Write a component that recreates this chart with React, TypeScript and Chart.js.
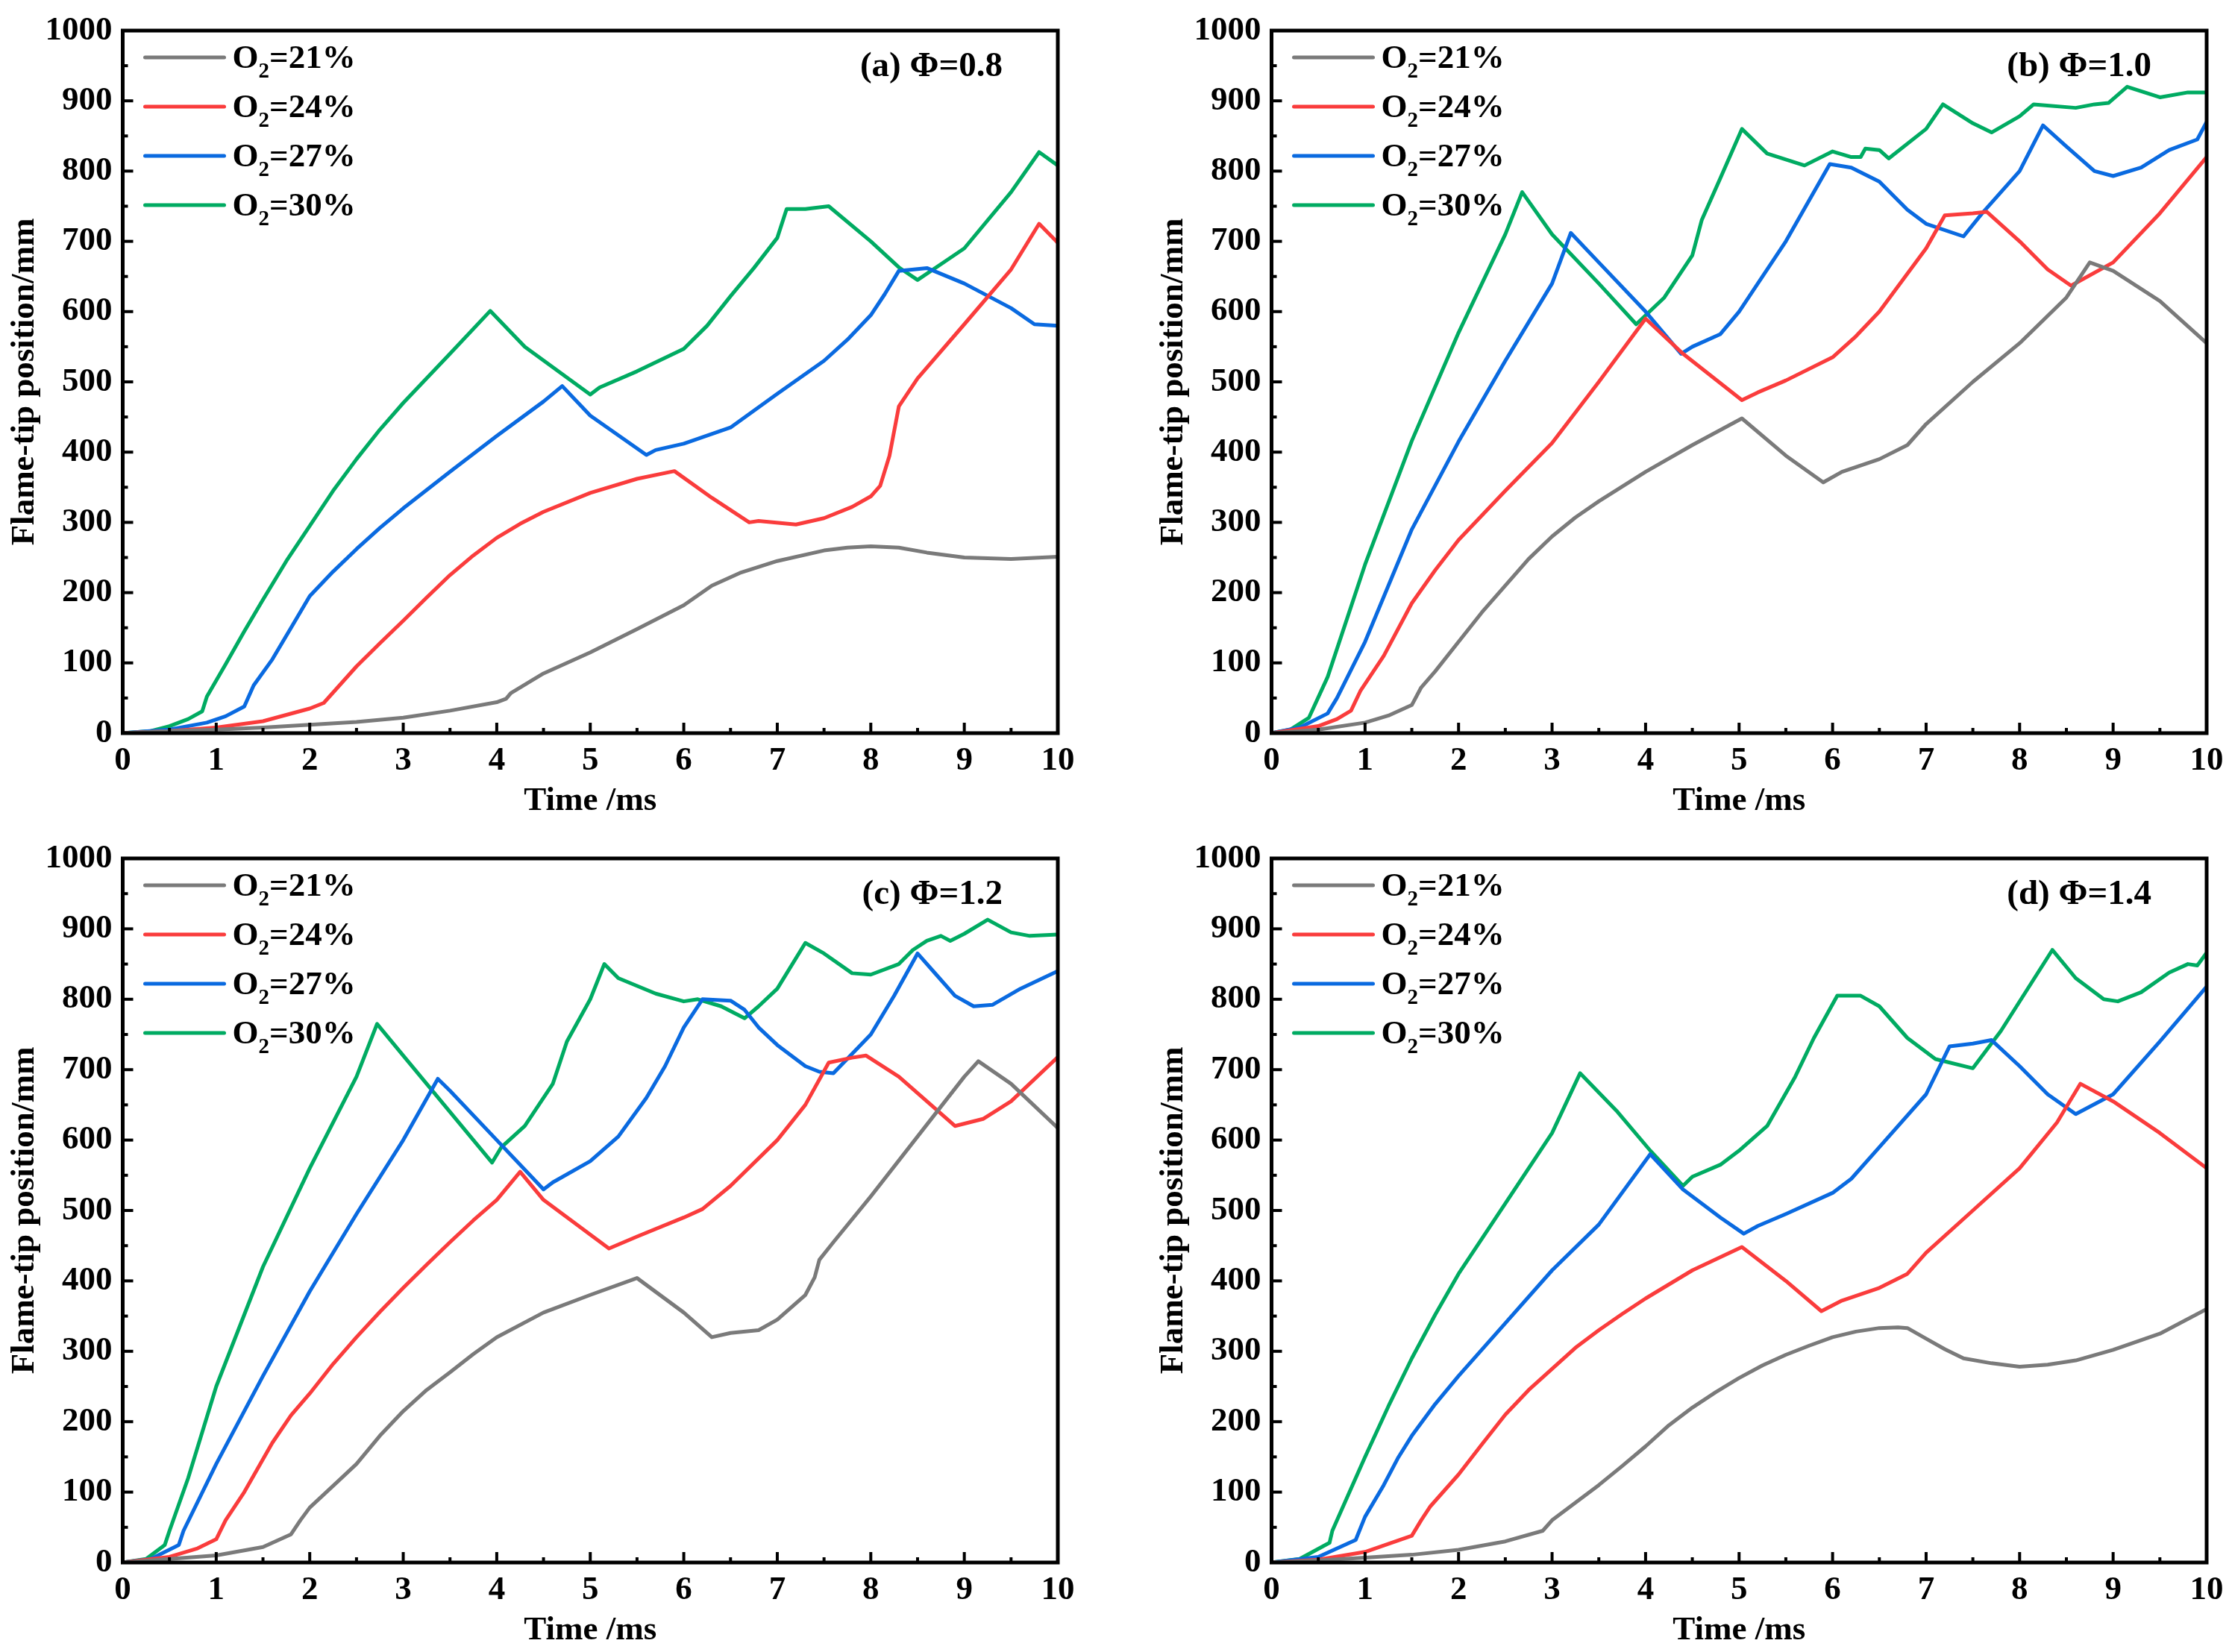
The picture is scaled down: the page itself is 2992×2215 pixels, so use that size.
import React, { useEffect, useRef } from "react";
import { Chart, registerables } from "chart.js";

Chart.register(...registerables);

// ---------- data ----------
const seriesLabels = ["21%", "24%", "27%", "30%"];
const seriesColors = ["#7a7a7a", "#fa3c3c", "#0a6ae0", "#00ab62"];
const panelLabels = ["(a) Φ=0.8", "(b) Φ=1.0", "(c) Φ=1.2", "(d) Φ=1.4"];
const xTickMin = 0;
const xTickMax = 10;
const xTickStep = 1;
const yTickMin = 0;
const yTickMax = 1000;
const yTickStep = 100;
const xTitle = "Time /ms";
const yTitle = "Flame-tip position/mm";

// Panel (a) Φ=0.8 : [time ms, position mm]
const a21 = [[0,0],[0.5,3],[1,5],[1.5,8],[2,12],[2.5,16],[3,22],[3.5,32],[4,44],[4.1,49],[4.15,57],[4.5,85],[5,115],[5.5,148],[6,182],[6.3,210],[6.6,228],[7,245],[7.5,260],[7.75,264],[8,266],[8.3,264],[8.6,257],[9,250],[9.5,248],[10,251]];
const a24 = [[0,0],[0.5,3],[1,8],[1.5,17],[2,35],[2.15,43],[2.5,95],[2.75,128],[3,160],[3.25,193],[3.5,225],[3.75,253],[4,278],[4.25,298],[4.5,315],[5,342],[5.5,362],[5.9,373],[6.3,335],[6.7,300],[6.8,302],[7.2,297],[7.5,306],[7.8,322],[8,337],[8.1,352],[8.2,395],[8.3,465],[8.5,505],[9,582],[9.5,660],[9.8,725],[10,698]];
const a27 = [[0,0],[0.5,5],[0.9,15],[1.1,24],[1.3,38],[1.4,68],[1.6,105],[1.8,150],[2,195],[2.25,230],[2.5,262],[2.75,292],[3,320],[3.5,372],[4,423],[4.5,472],[4.7,494],[5,452],[5.6,396],[5.7,403],[6,412],[6.5,435],[7,483],[7.5,530],[7.75,560],[8,595],[8.15,625],[8.3,658],[8.6,662],[9,640],[9.5,605],[9.75,582],[10,580]];
const a30 = [[0,0],[0.3,3],[0.5,10],[0.7,20],[0.85,31],[0.9,52],[1.1,98],[1.3,145],[1.5,190],[1.75,245],[2,295],[2.25,345],[2.5,390],[2.75,432],[3,470],[3.5,540],[3.93,601],[4.3,550],[5,482],[5.1,492],[5.5,515],[6,547],[6.25,580],[6.5,622],[6.75,662],[7,705],[7.1,746],[7.3,746],[7.55,750],[8,700],[8.3,663],[8.5,645],[8.8,672],[9,690],[9.5,770],[9.8,827],[10,808]];

// Panel (b) Φ=1.0
const b21 = [[0,0],[0.5,5],[1,15],[1.25,25],[1.5,40],[1.6,65],[1.75,88],[2,130],[2.25,172],[2.5,210],[2.75,248],[3,280],[3.25,307],[3.5,330],[4,372],[4.5,410],[5.03,448],[5.5,395],[5.9,357],[6.1,372],[6.5,390],[6.8,410],[7,440],[7.5,500],[8,555],[8.5,620],[8.75,670],[9,658],[9.5,615],[10,555]];
const b24 = [[0,0],[0.5,10],[0.7,20],[0.85,32],[0.95,60],[1.2,110],[1.5,185],[1.75,232],[2,275],[2.5,345],[3,413],[3.5,500],[4,590],[4.4,540],[5.03,474],[5.2,485],[5.5,502],[6,535],[6.25,565],[6.5,600],[7,690],[7.2,737],[7.5,740],[7.65,742],[8,700],[8.3,660],[8.55,637],[9,670],[9.5,740],[10,820]];
const b27 = [[0,0],[0.3,8],[0.6,28],[0.7,50],[1,130],[1.5,290],[2,415],[2.5,530],[3,640],[3.2,712],[3.5,670],[4,600],[4.38,540],[4.5,550],[4.8,568],[5,600],[5.5,700],[5.97,810],[6.2,805],[6.5,785],[6.8,745],[7,725],[7.4,707],[7.6,740],[8,800],[8.25,865],[8.5,835],[8.8,800],[9,793],[9.3,805],[9.6,830],[9.9,845],[10,870]];
const b30 = [[0,0],[0.2,5],[0.4,22],[0.6,80],[1,240],[1.5,416],[2,570],[2.5,710],[2.68,770],[3,710],[3.5,640],[3.9,582],[4.2,620],[4.5,680],[4.6,730],[4.8,790],[5.03,860],[5.3,825],[5.7,808],[6,828],[6.2,820],[6.3,820],[6.35,832],[6.5,830],[6.6,818],[7,860],[7.18,895],[7.5,868],[7.7,855],[8,878],[8.15,895],[8.6,890],[8.8,895],[8.95,897],[9.15,920],[9.5,905],[9.8,912],[10,912]];

// Panel (c) Φ=1.2
const c21 = [[0,0],[0.5,5],[1,10],[1.5,22],[1.8,40],[1.9,60],[2,78],[2.3,115],[2.5,140],[2.75,180],[3,215],[3.25,245],[3.5,270],[3.75,296],[4,320],[4.5,355],[5,380],[5.5,404],[6,355],[6.3,320],[6.5,326],[6.8,330],[7,345],[7.3,380],[7.4,405],[7.45,430],[7.6,455],[8,520],[8.5,605],[9,690],[9.15,712],[9.5,680],[10,617]];
const c24 = [[0,0],[0.5,8],[0.8,20],[1,33],[1.1,60],[1.3,100],[1.6,170],[1.8,209],[2,240],[2.25,282],[2.5,320],[2.75,356],[3,390],[3.25,423],[3.5,455],[3.75,486],[4,515],[4.25,555],[4.5,515],[5.2,446],[5.5,463],[6,490],[6.2,502],[6.5,535],[7,600],[7.3,650],[7.55,710],[7.8,717],[7.95,720],[8.3,690],[8.6,655],[8.9,620],[9.2,630],[9.5,655],[10,718]];
const c27 = [[0,0],[0.3,5],[0.6,25],[0.65,45],[1,140],[1.5,265],[2,385],[2.5,495],[3,600],[3.37,687],[3.5,670],[4,600],[4.5,530],[4.6,540],[5,570],[5.3,605],[5.6,660],[5.8,705],[6,760],[6.2,800],[6.5,798],[6.65,785],[6.8,760],[7,735],[7.3,705],[7.45,697],[7.6,695],[8,750],[8.25,805],[8.5,865],[8.7,835],[8.9,805],[9.1,790],[9.3,792],[9.6,815],[10,840]];
const c30 = [[0,0],[0.25,5],[0.45,25],[0.5,45],[0.7,120],[1,250],[1.5,420],[2,560],[2.5,690],[2.72,765],[3,720],[3.5,640],[3.95,568],[4.05,590],[4.3,620],[4.6,680],[4.75,740],[5,800],[5.15,850],[5.3,830],[5.7,808],[6,797],[6.15,800],[6.4,790],[6.65,773],[6.8,790],[7,815],[7.3,880],[7.5,865],[7.8,837],[8,835],[8.3,850],[8.45,870],[8.6,883],[8.75,890],[8.85,883],[9,893],[9.25,913],[9.5,895],[9.7,890],[10,892]];

// Panel (d) Φ=1.4
const d21 = [[0,0],[0.5,3],[1,7],[1.5,11],[2,18],[2.5,30],[2.9,45],[3,60],[3.25,85],[3.5,110],[3.75,137],[4,165],[4.25,195],[4.5,220],[4.75,242],[5,262],[5.25,280],[5.5,295],[5.75,308],[6,320],[6.25,328],[6.5,333],[6.7,334],[6.8,333],[7,318],[7.2,303],[7.4,290],[7.7,283],[8,278],[8.3,281],[8.6,287],[9,302],[9.5,325],[10,360]];
const d24 = [[0,0],[0.5,4],[1,15],[1.5,38],[1.6,60],[1.7,80],[2,125],[2.25,168],[2.5,210],[2.75,245],[3,275],[3.25,305],[3.5,330],[3.75,353],[4,375],[4.5,415],[5.03,448],[5.5,400],[5.88,357],[6.1,372],[6.5,390],[6.8,410],[7,440],[7.5,500],[8,560],[8.4,625],[8.65,680],[9,655],[9.5,610],[10,560]];
const d27 = [[0,0],[0.5,8],[0.9,32],[1,65],[1.2,110],[1.35,148],[1.5,180],[1.75,225],[2,265],[2.5,340],[3,415],[3.5,480],[4.05,580],[4.4,530],[4.8,490],[5.05,467],[5.2,478],[5.5,495],[6,525],[6.2,545],[6.5,590],[7,665],[7.25,733],[7.5,737],[7.7,742],[8,705],[8.3,665],[8.6,637],[9,665],[9.5,740],[10,818]];
const d30 = [[0,0],[0.3,5],[0.62,28],[0.65,45],[0.8,90],[1,150],[1.25,222],[1.5,290],[1.75,352],[2,410],[2.5,510],[3,610],[3.3,695],[3.7,640],[4.05,585],[4.4,535],[4.5,548],[4.8,565],[5,585],[5.3,620],[5.6,690],[5.8,745],[6.05,805],[6.3,805],[6.5,790],[6.8,745],[7.1,715],[7.5,702],[7.8,755],[8.35,870],[8.6,830],[8.9,800],[9.05,797],[9.3,810],[9.6,838],[9.8,850],[9.9,848],[10,866]];

const panelSeries = [
  [a21, a24, a27, a30],
  [b21, b24, b27, b30],
  [c21, c24, c27, c30],
  [d21, d24, d27, d30],
];

// ---------- layout ----------
const FONT = "'Liberation Serif', 'Times New Roman', serif";
const panelBoxes = [
  { left: 0, top: 0, w: 1452, h: 1107, plotTop: 33, plotBottom: 983, titlePad: 6 },
  { left: 1540, top: 0, w: 1452, h: 1107, plotTop: 33, plotBottom: 983, titlePad: 6 },
  { left: 0, top: 1110, w: 1452, h: 1105, plotTop: 33, plotBottom: 985, titlePad: 2 },
  { left: 1540, top: 1110, w: 1452, h: 1105, plotTop: 33, plotBottom: 985, titlePad: 2 },
];
const PLOT_LEFT = 164.5;
const PLOT_RIGHT = 1418;

const decorPlugin = {
  id: "decor",
  afterDatasetsDraw(chart: any, _args: any, opts: any) {
    const { ctx, chartArea: a, scales } = chart;
    const xs = scales.x;
    const ys = scales.y;
    ctx.save();
    ctx.strokeStyle = "#000";
    ctx.lineCap = "butt";
    ctx.lineWidth = 4;
    // inward ticks (bottom and left axes)
    for (let i = 0; i <= (xTickMax - xTickMin) / (xTickStep / 2); i++) {
      const v = xTickMin + i * (xTickStep / 2);
      const px = xs.getPixelForValue(v);
      const len = i % 2 === 0 ? 14 : 7;
      ctx.beginPath();
      ctx.moveTo(px, a.bottom);
      ctx.lineTo(px, a.bottom - len);
      ctx.stroke();
    }
    for (let i = 0; i <= (yTickMax - yTickMin) / (yTickStep / 2); i++) {
      const v = yTickMin + i * (yTickStep / 2);
      const py = ys.getPixelForValue(v);
      const len = i % 2 === 0 ? 14 : 7;
      ctx.beginPath();
      ctx.moveTo(a.left, py);
      ctx.lineTo(a.left + len, py);
      ctx.stroke();
    }
    // frame
    ctx.lineWidth = 5;
    ctx.strokeRect(a.left, a.top, a.right - a.left, a.bottom - a.top);

    // legend
    const lx0 = a.left + 30;
    const lx1 = a.left + 136;
    const tx = a.left + 147;
    seriesLabels.forEach((lab, i) => {
      const cy = a.top + 36 + i * 66;
      ctx.strokeStyle = seriesColors[i];
      ctx.lineWidth = 5;
      ctx.lineCap = "round";
      ctx.beginPath();
      ctx.moveTo(lx0, cy);
      ctx.lineTo(lx1, cy);
      ctx.stroke();
      ctx.fillStyle = "#000";
      ctx.textAlign = "left";
      ctx.textBaseline = "alphabetic";
      const base = cy + 14;
      ctx.font = `bold 45px ${FONT}`;
      ctx.fillText("O", tx, base);
      let x = tx + ctx.measureText("O").width;
      ctx.font = `bold 29px ${FONT}`;
      ctx.fillText("2", x, base + 13);
      x += ctx.measureText("2").width;
      ctx.font = `bold 45px ${FONT}`;
      ctx.fillText("=" + lab, x, base);
    });

    // panel label
    ctx.fillStyle = "#000";
    ctx.font = `bold 47px ${FONT}`;
    ctx.textAlign = "right";
    ctx.textBaseline = "middle";
    ctx.fillText(opts.label, a.right - 74, a.top + 49);
    ctx.restore();
  },
};

function Panel({ idx }: { idx: number }) {
  const ref = useRef<HTMLCanvasElement | null>(null);
  const box = panelBoxes[idx];
  useEffect(() => {
    if (!ref.current) return;
    const series = panelSeries[idx];
    const chart = new Chart(ref.current, {
      type: "line",
      data: {
        datasets: series.map((pts, i) => ({
          label: "O2=" + seriesLabels[i],
          data: pts.map(([x, y]) => ({ x, y })),
          borderColor: seriesColors[i],
          backgroundColor: seriesColors[i],
          borderWidth: 5,
          pointRadius: 0,
          tension: 0,
          fill: false,
          borderJoinStyle: "round",
        })),
      },
      options: {
        animation: false,
        responsive: false,
        devicePixelRatio: 1,
        layout: {
          padding: { left: 0, top: box.plotTop, right: box.w - PLOT_RIGHT, bottom: 0 },
        },
        plugins: {
          legend: { display: false },
          tooltip: { enabled: false },
          decor: { label: panelLabels[idx] },
        } as any,
        scales: {
          x: {
            type: "linear",
            min: xTickMin,
            max: xTickMax,
            afterFit: (s: any) => {
              s.height = box.h - box.plotBottom;
            },
            grid: { display: false, drawTicks: false },
            border: { display: false },
            ticks: {
              stepSize: xTickStep,
              padding: 10,
              color: "#000",
              maxRotation: 0,
              autoSkip: false,
              callback: (v: any) => String(v),
              font: { family: FONT, size: 45, weight: "bold" },
            },
            title: {
              display: true,
              text: xTitle,
              color: "#000",
              font: { family: FONT, size: 45, weight: "bold" },
              padding: { top: 0, bottom: box.titlePad },
            },
          },
          y: {
            type: "linear",
            min: yTickMin,
            max: yTickMax,
            afterFit: (s: any) => {
              s.width = PLOT_LEFT;
            },
            grid: { display: false, drawTicks: false },
            border: { display: false },
            ticks: {
              stepSize: yTickStep,
              padding: 14,
              color: "#000",
              autoSkip: false,
              callback: (v: any) => String(v),
              font: { family: FONT, size: 45, weight: "bold" },
            },
            title: {
              display: true,
              text: yTitle,
              color: "#000",
              font: { family: FONT, size: 45, weight: "bold" },
              padding: { top: 6, bottom: 0 },
            },
          },
        },
      } as any,
      plugins: [decorPlugin],
    });
    return () => chart.destroy();
  }, [idx]);
  return (
    <canvas
      ref={ref}
      width={box.w}
      height={box.h}
      style={{ position: "absolute", left: box.left, top: box.top, width: box.w, height: box.h }}
    />
  );
}

export default function App() {
  return (
    <div style={{ position: "fixed", left: 0, top: 0, width: 2992, height: 2215, background: "#fff", overflow: "hidden" }}>
      {[0, 1, 2, 3].map((i) => (
        <Panel key={i} idx={i} />
      ))}
    </div>
  );
}
